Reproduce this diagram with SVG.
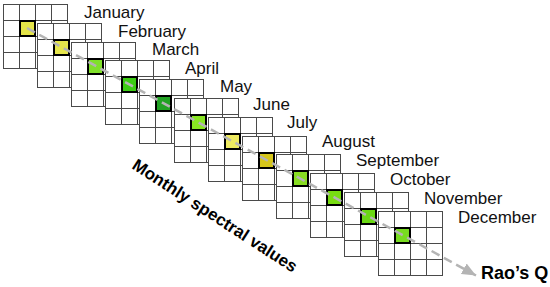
<svg xmlns="http://www.w3.org/2000/svg" xmlns:xlink="http://www.w3.org/1999/xlink" width="550" height="287" viewBox="0 0 550 287">
<style>
  .lbl { font-family: "Liberation Sans", Arial, sans-serif; font-size: 17px; fill: #111; }
  .bold { font-family: "Liberation Sans", Arial, sans-serif; font-size: 17px; font-weight: bold; fill: #000; }
  .big { font-size: 18px; }
  .hl { stroke: #000; stroke-width: 2; }
  .conn { stroke: #b4b4b4; stroke-width: 2.5; stroke-dasharray: 9 5; fill: none; }
</style>
<defs>
  <g id="grid">
    <rect x="0.5" y="0.5" width="64" height="64" fill="#fff" stroke="#4a4a4a" stroke-width="1"/>
    <path d="M16.5,0.5V64.5M32.5,0.5V64.5M48.5,0.5V64.5M0.5,16.5H64.5M0.5,32.5H64.5M0.5,48.5H64.5" stroke="#4a4a4a" stroke-width="1" fill="none"/>
  </g>
  <marker id="arrow" markerUnits="userSpaceOnUse" markerWidth="15" markerHeight="13" refX="14" refY="6" orient="auto">
    <path d="M0,0 L14,6 L0,12 z" fill="#b4b4b4"/>
  </marker>
</defs>
<rect width="550" height="287" fill="#fff"/>

<g id="january"><use xlink:href="#grid" x="3" y="4"/><rect class="hl" x="20" y="21" width="15" height="15" fill="#e4e448"/><text class="lbl" x="84" y="18">January</text></g>
<g id="february"><use xlink:href="#grid" x="37" y="23"/><rect class="hl" x="54" y="40" width="15" height="15" fill="#e6e64c"/><text class="lbl" x="118" y="37">February</text></g>
<g id="march"><use xlink:href="#grid" x="71" y="42"/><rect class="hl" x="88" y="59" width="15" height="15" fill="#80e02a"/><text class="lbl" x="152" y="55">March</text></g>
<g id="april"><use xlink:href="#grid" x="105" y="60"/><rect class="hl" x="122" y="77" width="15" height="15" fill="#3ccc14"/><text class="lbl" x="185" y="74">April</text></g>
<g id="may"><use xlink:href="#grid" x="139" y="79"/><rect class="hl" x="156" y="96" width="15" height="15" fill="#22a224"/><text class="lbl" x="220" y="92">May</text></g>
<g id="june"><use xlink:href="#grid" x="174" y="98"/><rect class="hl" x="191" y="115" width="15" height="15" fill="#88e622"/><text class="lbl" x="253" y="110">June</text></g>
<g id="july"><use xlink:href="#grid" x="208" y="117"/><rect class="hl" x="225" y="134" width="15" height="15" fill="#eeea60"/><text class="lbl" x="287" y="128">July</text></g>
<g id="august"><use xlink:href="#grid" x="242" y="136"/><rect class="hl" x="259" y="153" width="15" height="15" fill="#d6c61a"/><text class="lbl" x="322" y="147">August</text></g>
<g id="september"><use xlink:href="#grid" x="276" y="154"/><rect class="hl" x="293" y="171" width="15" height="15" fill="#88dd22"/><text class="lbl" x="356" y="166">September</text></g>
<g id="october"><use xlink:href="#grid" x="310" y="173"/><rect class="hl" x="327" y="190" width="15" height="15" fill="#78dc12"/><text class="lbl" x="390" y="185">October</text></g>
<g id="november"><use xlink:href="#grid" x="344" y="192"/><rect class="hl" x="361" y="209" width="15" height="15" fill="#6ad814"/><text class="lbl" x="424" y="204">November</text></g>
<g id="december"><use xlink:href="#grid" x="378" y="211"/><rect class="hl" x="395" y="228" width="15" height="15" fill="#78dc20"/><text class="lbl" x="458" y="223">December</text></g>

<g id="connectors">
  <line class="conn" x1="27" y1="28" x2="476" y2="275.5" marker-end="url(#arrow)"/>
</g>

<g id="raos-q"><text class="bold big" x="481" y="279">Rao’s Q</text></g>
<g id="monthly-label"><text class="bold" transform="translate(131,168) rotate(33)">Monthly spectral values</text></g>
</svg>
